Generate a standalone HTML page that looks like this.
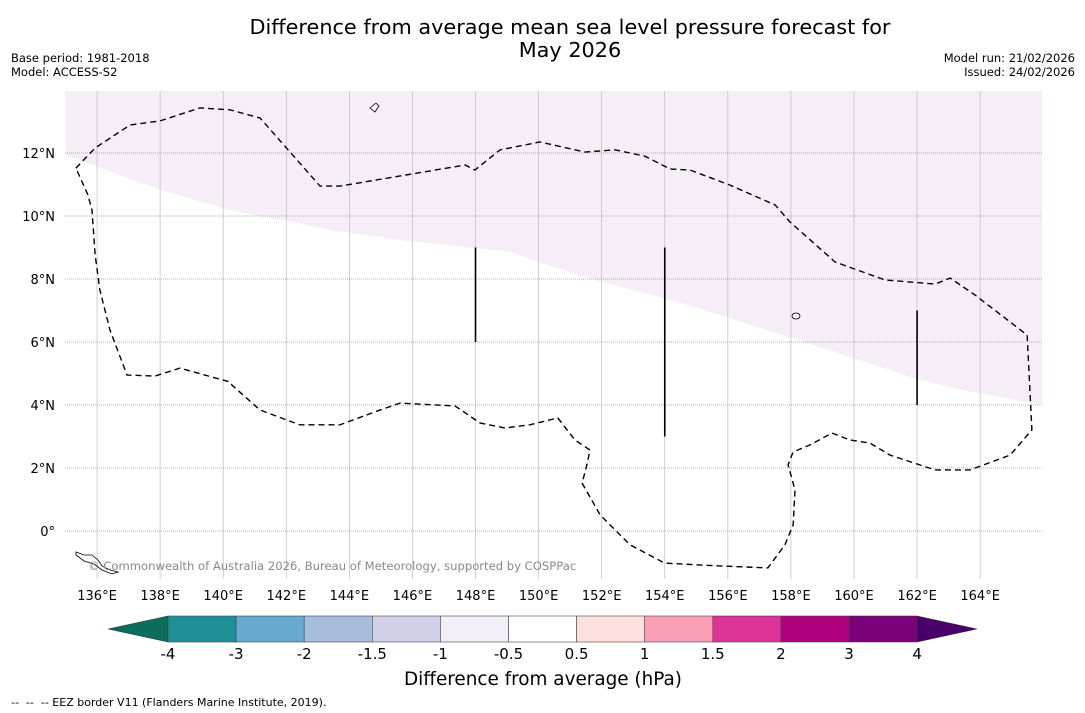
<!DOCTYPE html>
<html><head><meta charset="utf-8"><style>
body{margin:0;background:#fff;width:1085px;height:713px;overflow:hidden;font-family:"Liberation Sans","DejaVu Sans",sans-serif}
svg{position:absolute;left:0;top:0}
</style></head><body>
<svg id="s" width="1085" height="713" font-family="DejaVu Sans, Liberation Sans, sans-serif">
<text x="570" y="34" text-anchor="middle" font-size="20.8">Difference from average mean sea level pressure forecast for</text>
<text x="570" y="57" text-anchor="middle" font-size="20.8">May 2026</text>
<text x="11" y="62" font-size="11.5">Base period: 1981-2018</text>
<text x="11" y="76" font-size="11.5">Model: ACCESS-S2</text>
<text x="1075" y="62" font-size="11.5" text-anchor="end">Model run: 21/02/2026</text>
<text x="1075" y="76" font-size="11.5" text-anchor="end">Issued: 24/02/2026</text>
<g id="map"></g>
<g id="cbar"></g>
<text x="543" y="685" text-anchor="middle" font-size="18.4">Difference from average (hPa)</text>
<text x="11" y="706" font-size="11" xml:space="preserve" style="white-space:pre">--  --  -- EEZ border V11 (Flanders Marine Institute, 2019).</text>
</svg>
<script>
const lonTicks=[136,138,140,142,144,146,148,150,152,154,156,158,160,162,164];
const latTicks=[0,2,4,6,8,10,12];
const shadeLon=[135,138,140.2,143.4,145.6,148,149.1,150,152,153.85,155.75,158,159.9,162.1,163.4,166];
const shadeLat=[11.94,10.83,10.19,9.56,9.24,8.98,8.86,8.54,7.9,7.43,6.86,6.13,5.52,4.79,4.48,4.0];
const eezLon=[135.33,135.94,137.05,138.0,139.26,140.22,141.17,143.07,143.70,145.61,147.67,147.98,148.78,150.04,151.47,152.42,153.37,154.17,154.80,156.07,157.50,157.97,159.40,160.98,162.57,163.05,163.84,165.49,165.64,164.95,163.68,162.57,161.14,160.51,159.87,159.30,158.60,158.07,157.91,158.13,158.07,157.81,157.27,155.75,154.0,152.9,151.95,151.38,151.53,151.63,151.15,150.61,149.72,148.93,148.14,147.35,145.61,144.97,143.70,142.43,141.17,140.28,140.22,139.42,138.63,137.84,136.95,136.41,136.09,135.94,135.84,135.71,135.33];
const eezLat=[11.52,12.16,12.89,13.02,13.43,13.37,13.11,10.95,10.95,11.27,11.62,11.46,12.10,12.35,12.03,12.10,11.90,11.49,11.46,10.98,10.35,9.81,8.54,7.97,7.84,8.03,7.49,6.22,3.21,2.41,1.94,1.94,2.41,2.79,2.89,3.11,2.73,2.51,2.10,1.30,0.19,-0.44,-1.17,-1.11,-1.02,-0.44,0.51,1.52,2.10,2.57,2.89,3.59,3.37,3.27,3.43,3.97,4.06,3.84,3.37,3.37,3.84,4.63,4.73,4.95,5.17,4.92,4.95,6.38,7.65,8.76,10.19,10.67,11.52];
const vLon=[148,154,162], vLat0=[6,3,4], vLat1=[9,9,7];
const cbBounds=["-4","-3","-2","-1.5","-1","-0.5","0.5","1","1.5","2","3","4"];
const cbColors=["#1e8f94","#67a9cf","#a6bddb","#d0d1e6","#f4eef6","#ffffff","#fde0dd","#fa9fb5","#dd3497","#ae017e","#7a0177"];
const ns="http://www.w3.org/2000/svg";
const X0=65.5,Y0=531,K=31.54,KY=31.5,L=65,R=1042,T=91,B=579;
const px=lon=>X0+(lon-135)*K, py=lat=>Y0-lat*KY;
function mk(t,a,p){const e=document.createElementNS(ns,t);for(const k in a)e.setAttribute(k,a[k]);p.appendChild(e);return e;}
const map=document.getElementById('map');
const cp=mk('clipPath',{id:'cp'},map);
mk('rect',{x:L,y:T,width:R-L,height:B-T},cp);
const g=mk('g',{'clip-path':'url(#cp)'},map);
let d='M'+L+','+T;
shadeLon.forEach((v,i)=>{d+=' L'+px(v)+','+py(shadeLat[i]);});
d+=' L'+R+','+T+'Z';
const sh=mk('path',{d:d,fill:'#f5eef6'},g);


lonTicks.forEach(v=>{const l=mk('line',{x1:px(v),x2:px(v),y1:T,y2:B,stroke:'#bbb','stroke-width':0.7},g);

const t=mk('text',{x:px(v),y:600,'text-anchor':'middle','font-size':13},map);t.textContent=v+'°E';
});
latTicks.forEach(v=>{const l=mk('line',{x1:L,x2:R,y1:py(v),y2:py(v),stroke:'#999','stroke-width':0.7,'stroke-dasharray':'1,1'},g);

const t=mk('text',{x:55,y:py(v)+5,'text-anchor':'end','font-size':13},map);t.textContent=v===0?'0°':v+'°N';
});
const ep=mk('polyline',{points:eezLon.map((v,i)=>px(v)+','+py(eezLat[i])).join(' '),fill:'none',stroke:'#000','stroke-width':1.4,'stroke-dasharray':'6,4'},g);

vLon.forEach((v,i)=>{const l=mk('line',{x1:px(v),x2:px(v),y1:py(vLat1[i]),y2:py(vLat0[i]),stroke:'#000','stroke-width':1.6},g);
});
const isl=mk('path',{d:'M76,552 l8,3 l8,0 l6,5 l4,6 l8,4 l8,2 l-6,2 l-10,-4 l-8,-6 l-10,-3 l-8,-6z M370,108 l6,-5 l3,3 l-4,6z M792,316 a4,3 0 1,0 8,0 a4,3 0 1,0 -8,0',fill:'none',stroke:'#000','stroke-width':0.8},g);

const cr=mk('text',{x:88,y:570,'font-size':11.6,fill:'#888'},map);cr.textContent='© Commonwealth of Australia 2026, Bureau of Meteorology, supported by COSPPac';

const cb=document.getElementById('cbar');
const cx0=168,cw=68.1,cy=616,ch=26;
const a1=mk('polygon',{points:`108,629 ${cx0},${cy} ${cx0},${cy+ch}`,fill:'#0b6e5c',stroke:'#333','stroke-width':0.5},cb);

cbColors.forEach((c,i)=>{const r=mk('rect',{x:cx0+i*cw,y:cy,width:cw,height:ch,fill:c,stroke:'#444','stroke-width':0.6},cb);
});
const xe=cx0+cbColors.length*cw;
const a2=mk('polygon',{points:`${xe},${cy} 977,629 ${xe},${cy+ch}`,fill:'#49006a',stroke:'#333','stroke-width':0.5},cb);

cbBounds.forEach((b,i)=>{const t=mk('text',{x:cx0+i*cw,y:659,'text-anchor':'middle','font-size':15},cb);t.textContent=b;
});
</script>
</body></html>
